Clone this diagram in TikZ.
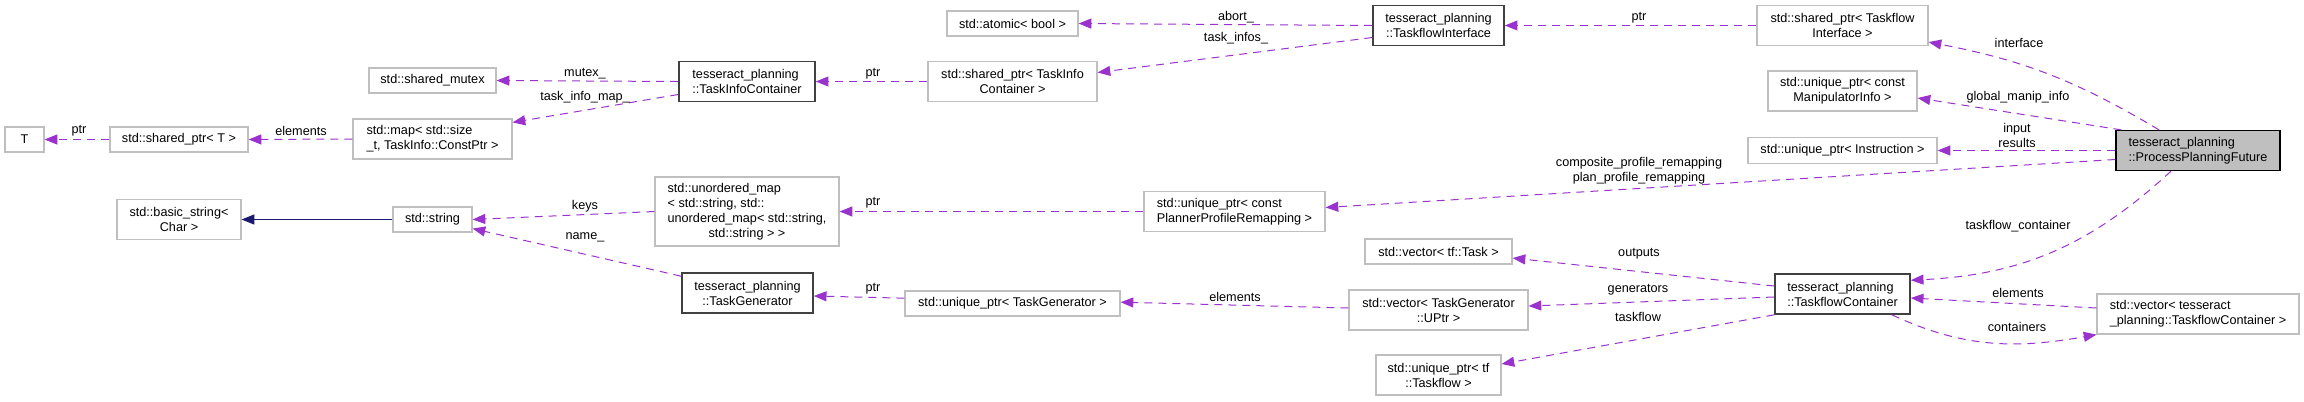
\documentclass[tikz,border=0pt]{standalone}
\usepackage{fontspec}
\setmainfont{Liberation Sans}
\usetikzlibrary{arrows.meta}
\definecolor{dxPurple}{HTML}{9A32CD}
\definecolor{dxNavy}{HTML}{191970}
\definecolor{dxGrey}{HTML}{BFBFBF}
\definecolor{dxDark}{HTML}{404040}
\tikzset{
  every node/.style={font=\fontsize{9.5}{11.25}\selectfont},
  box/.style 2 args={draw=dxGrey, line width=0.9pt, fill=white, inner sep=2pt, align=center,
                     minimum width=#1*0.75pt, minimum height=#2*0.75pt},
  boxDoc/.style 2 args={box={#1}{#2}, draw=dxDark, line width=1.2pt},
  boxMain/.style 2 args={box={#1}{#2}, draw=black, fill=dxGrey},
  dep/.style={draw=dxPurple, line width=0.75pt, dash pattern=on 6pt off 4.5pt,
              -{Triangle[length=9.5pt, width=7.5pt]}},
  inh/.style={draw=dxNavy, line width=0.75pt, -{Triangle[length=9.5pt, width=7.5pt]}},
  lbl/.style={inner sep=0pt, align=center},
}

\begin{document}
\begin{tikzpicture}[x=0.75pt, y=-0.75pt]
  \useasboundingbox (0,0) rectangle (2304,401);
  % task info side
  \node[box={39}{25}] (T) at (24.5,139.5) {T};
  \node[box={138}{25}] (sptrT) at (179,139.5) {std::shared\_ptr< T >};
  \node[box={159}{40}, align=left] (mapTI) at (432.5,139) {std::map< std::size\\\_t, TaskInfo::ConstPtr >};
  \node[box={127}{25}] (mutex) at (432.5,80.5) {std::shared\_mutex};
  \node[boxDoc={136}{40}, align=left] (tic) at (747,81.5) {tesseract\_planning\\::TaskInfoContainer};
  \node[box={169}{40}] (sptrTIC) at (1012.5,81.5) {std::shared\_ptr< TaskInfo\\Container >};
  \node[box={131}{25}] (atomic) at (1012.5,23.5) {std::atomic< bool >};
  \node[boxDoc={131}{40}] (tfi) at (1438.5,25.5) {tesseract\_planning\\::TaskflowInterface};
  \node[box={171}{40}] (sptrTFI) at (1842.5,25.5) {std::shared\_ptr< Taskflow\\Interface >};
  \node[box={149}{40}] (manip) at (1842.5,91) {std::unique\_ptr< const\\ManipulatorInfo >};
  \node[box={189}{26}] (instr) at (1842.5,150.5) {std::unique\_ptr< Instruction >};
  \node[boxMain={164}{40}, align=left] (ppf) at (2198,150.5) {tesseract\_planning\\::ProcessPlanningFuture};
  % strings and generators
  \node[box={124}{40}] (bstr) at (179,219.5) {std::basic\_string<\\Char >};
  \node[box={79}{25}] (str) at (432.5,219.5) {std::string};
  \node[box={184}{69}] (umap) at (747,211.5)
    {\begin{tabular}{@{}l@{}}std::unordered\_map\\< std::string, std::\\unordered\_map< std::string,\\
     \multicolumn{1}{@{}c@{}}{std::string > >}\end{tabular}};
  \node[box={181}{40}, align=left] (pprm) at (1234.5,211.5) {std::unique\_ptr< const\\PlannerProfileRemapping >};
  \node[boxDoc={131}{40}] (tgen) at (747.5,293) {tesseract\_planning\\::TaskGenerator};
  \node[box={215}{25}] (uptrTG) at (1012.5,303.5) {std::unique\_ptr< TaskGenerator >};
  \node[box={147}{25}] (vecTask) at (1438.5,251.5) {std::vector< tf::Task >};
  \node[box={179}{40}] (vecTG) at (1438.5,310) {std::vector< TaskGenerator\\::UPtr >};
  \node[box={125}{40}] (uptrTF) at (1438.5,375) {std::unique\_ptr< tf\\::Taskflow >};
  \node[boxDoc={135}{40}, align=left] (tfc) at (1842.5,294) {tesseract\_planning\\::TaskflowContainer};
  \node[box={202}{40}, align=left] (vecTFC) at (2198,314) {std::vector< tesseract\\\_planning::TaskflowContainer >};

  % members
  \draw[dep] (sptrT.west) -- (T.east) node[lbl] at (79,131) {ptr};
  \draw[dep] (mapTI.west) -- (sptrT.east) node[lbl] at (301,131) {elements};
  \draw[dep] (tic.west) -- (mutex.east) node[lbl] at (585,74) {mutex\_};
  \draw[dep] ([yshift=-9.75pt]tic.west) -- ([yshift=-3pt]mapTI.north east) node[lbl] at (585,97) {task\_info\_map\_};
  \draw[dep] (sptrTIC.west) -- (tic.east) node[lbl] at (873,74) {ptr};
  \draw[dep] (tfi.west) -- (atomic.east) node[lbl] at (1236,17) {abort\_};
  \draw[dep] ([yshift=-9pt]tfi.west) -- ([yshift=6.75pt]sptrTIC.east) node[lbl] at (1236,38) {task\_infos\_};
  \draw[dep] (sptrTFI.west) -- (tfi.east) node[lbl] at (1639,18) {ptr};
  \draw[dep] ([xshift=-29.25pt]ppf.north) to[bend right=10] ([yshift=3pt]sptrTFI.south east);
  \node[lbl] at (2019,43) {interface};
  \draw[dep] ([xshift=4.5pt]ppf.north west) -- ([yshift=-5.25pt]manip.east) node[lbl] at (2018,97) {global\_manip\_info};
  \draw[dep] (ppf.west) -- (instr.east) node[lbl] at (2017,135) {input\\results};
  \draw[dep] ([yshift=-6.75pt]ppf.west) -- ([yshift=3pt]pprm.east)
    node[lbl] at (1639,171) {composite\_profile\_remapping\\plan\_profile\_remapping};
  \draw[dep] ([xshift=-20.25pt]ppf.south) to[bend left=20] ([yshift=-5.25pt]tfc.north east);
  \node[lbl] at (2018,226) {taskflow\_container};
  \draw[inh] (str.west) -- (bstr.east);
  \draw[dep] (umap.west) -- (str.east) node[lbl] at (585,206) {keys};
  \draw[dep] ([yshift=-3pt]tgen.north west) -- ([yshift=3pt]str.south east) node[lbl] at (585,237) {name\_};
  \draw[dep] (pprm.west) -- (umap.east) node[lbl] at (873,203) {ptr};
  \draw[dep] ([yshift=4pt]uptrTG.west) -- ([yshift=-2.25pt]tgen.east) node[lbl] at (873,289) {ptr};
  \draw[dep] ([yshift=1.5pt]vecTG.west) -- ([yshift=1pt]uptrTG.east) node[lbl] at (1235,297) {elements};
  \draw[dep] ([yshift=6pt]tfc.west) -- ([yshift=-4.9pt]vecTask.east) node[lbl] at (1639,254) {outputs};
  \draw[dep] ([yshift=-2.25pt]tfc.west) -- ([yshift=3pt]vecTG.east) node[lbl] at (1638,290) {generators};
  \draw[dep] (tfc.south west) -- ([yshift=8.25pt]uptrTF.east) node[lbl] at (1638,317) {taskflow};
  \draw[dep] ([yshift=4.5pt]vecTFC.west) -- ([yshift=-3pt]tfc.east) node[lbl] at (2018,293) {elements};
  \draw[dep] ([xshift=37pt]tfc.south) to[out=-25, in=190] (vecTFC.south west);
  \node[lbl] at (2017,327) {containers};
\end{tikzpicture}
\end{document}
